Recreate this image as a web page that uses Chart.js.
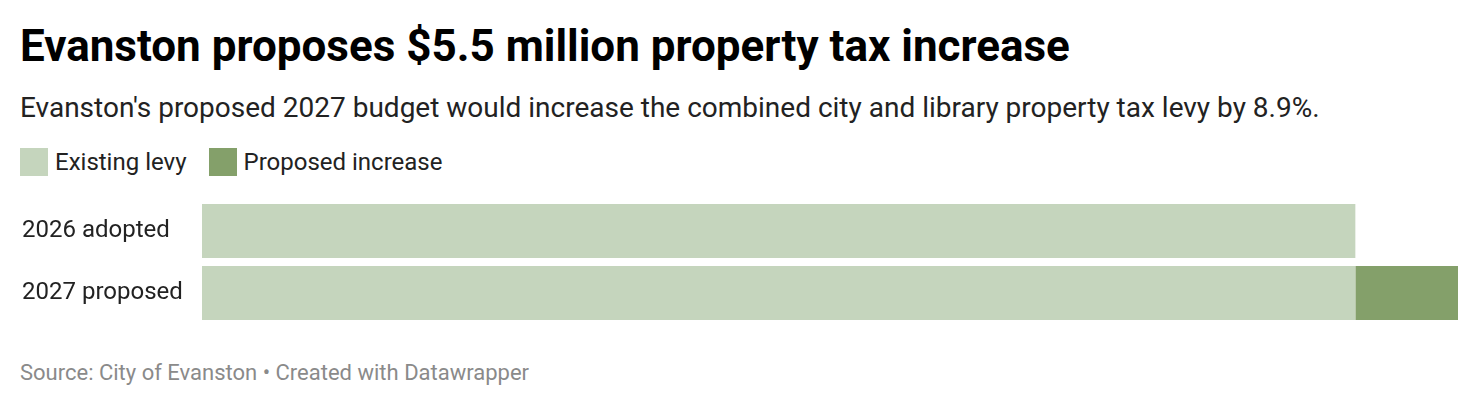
<!DOCTYPE html>
<html lang="en">
<head>
    <meta charset="UTF-8">
    <title>Evanston property tax levy</title>
    <style>
        body {
            font-family: 'Roboto', sans-serif;
            background-color: #fff;
            margin: 0;
            width: 1480px;
            height: 406px;
            position: relative;
            overflow: hidden;
            color: #111;
        }
        h1 {
            position: absolute;
            left: 20px;
            top: 24px;
            margin: 0;
            font-size: 44px;
            font-weight: 700;
            line-height: 1;
            color: #000;
            white-space: nowrap;
        }
        .subtitle {
            position: absolute;
            left: 20px;
            top: 94px;
            font-size: 28px;
            line-height: 1;
            color: #222;
            white-space: nowrap;
        }
        .legend {
            position: absolute;
            left: 20px;
            top: 148px;
            display: flex;
            align-items: center;
            font-size: 24px;
            line-height: 1;
            color: #222;
        }
        .legend span.box {
            display: inline-block;
            width: 28px;
            height: 28px;
            margin-right: 7px;
        }
        .legend .item {
            display: flex;
            align-items: center;
            margin-right: 22px;
        }
        #chart-wrap {
            position: absolute;
            left: 22px;
            top: 200px;
            width: 1436px;
            height: 124px;
        }
        .source {
            position: absolute;
            left: 20px;
            top: 362px;
            font-size: 22px;
            line-height: 1;
            color: #8a8a8a;
            white-space: nowrap;
        }
    </style>
    <script src="https://cdn.jsdelivr.net/npm/chart.js"></script>
</head>
<body>
    <h1>Evanston proposes $5.5 million property tax increase</h1>
    <div class="subtitle">Evanston's proposed 2027 budget would increase the combined city and library property tax levy by 8.9%.</div>
    <div class="legend" id="legend"></div>
    <div id="chart-wrap"><canvas id="graph" width="1436" height="124"></canvas></div>
    <div class="source">Source: City of Evanston • Created with Datawrapper</div>
    <script>
        // values in millions of dollars
        const categories = ['2026 adopted', '2027 proposed'];
        const existingLevy = [61.8, 61.8];
        const proposedIncrease = [0, 5.5];
        const seriesNames = ['Existing levy', 'Proposed increase'];
        const seriesColors = ['#c5d5bd', '#84a06a'];

        // legend boxes
        const legend = document.getElementById('legend');
        seriesNames.forEach((name, i) => {
            const item = document.createElement('div');
            item.className = 'item';
            item.innerHTML = '<span class="box" style="background:' + seriesColors[i] + '"></span>' + name;
            legend.appendChild(item);
        });

        const maxTotal = Math.max(...categories.map((_, i) => existingLevy[i] + proposedIncrease[i]));

        const ctx = document.getElementById('graph').getContext('2d');
        new Chart(ctx, {
            type: 'bar',
            data: {
                labels: categories,
                datasets: [{
                    label: seriesNames[0],
                    data: existingLevy,
                    backgroundColor: seriesColors[0]
                }, {
                    label: seriesNames[1],
                    data: proposedIncrease,
                    backgroundColor: seriesColors[1]
                }]
            },
            options: {
                indexAxis: 'y',
                responsive: false,
                animation: false,
                layout: { padding: 0 },
                datasets: {
                    bar: {
                        categoryPercentage: 1,
                        barPercentage: 54 / 62,
                        borderWidth: 0
                    }
                },
                scales: {
                    x: {
                        stacked: true,
                        display: false,
                        min: 0,
                        max: maxTotal
                    },
                    y: {
                        stacked: true,
                        grid: { display: false },
                        border: { display: false },
                        afterFit: (axis) => {
                            axis.width = 180;
                            // labels sit mid-category, no extra room needed above/below
                            axis.paddingTop = 0;
                            axis.paddingBottom = 0;
                        },
                        ticks: {
                            crossAlign: 'far',
                            padding: 0,
                            color: '#222',
                            font: { family: 'Roboto', size: 24 }
                        }
                    }
                },
                plugins: {
                    legend: { display: false },
                    tooltip: { enabled: false }
                }
            }
        });
    </script>
</body>
</html>
